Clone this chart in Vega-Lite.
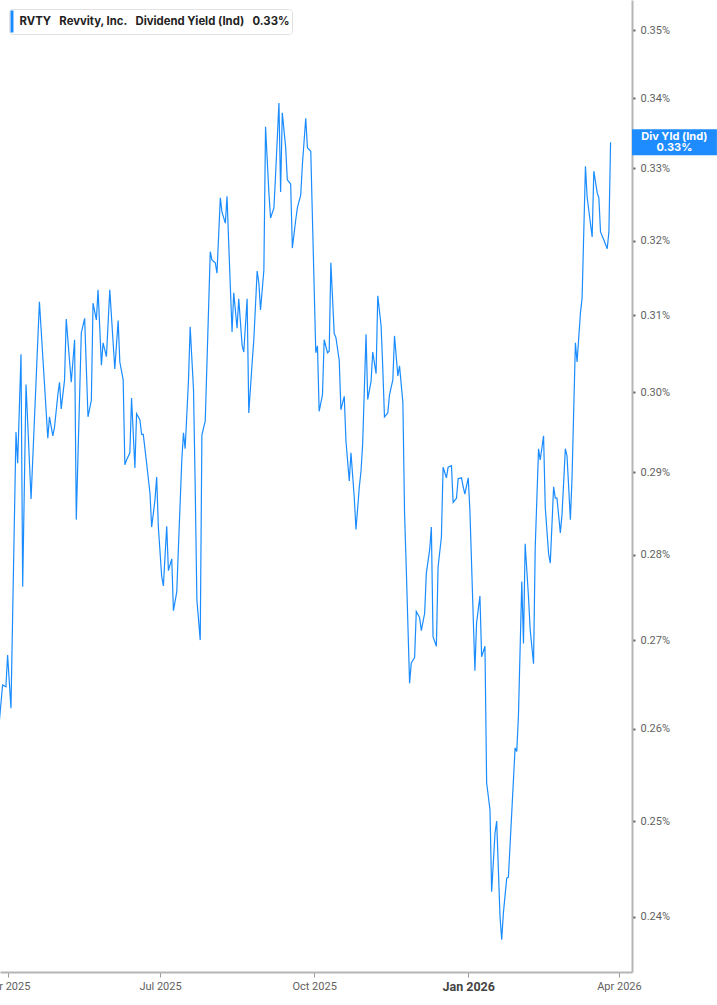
{
  "$schema": "https://vega.github.io/schema/vega-lite/v6.json",
  "description": "RVTY Revvity, Inc. dividend yield (indicated), daily, log scale.",
  "width": 632,
  "height": 972,
  "autosize": {"type": "none"},
  "padding": {"left": 0, "top": 0, "right": 85, "bottom": 33},
  "background": "white",
  "config": {
    "view": {"stroke": null},
    "font": "Roboto",
    "axis": {"grid": false, "title": null, "labelFont": "Roboto"},
    "legend": {"labelFont": "Inter", "titleFont": "Inter"}
  },
  "layer": [
    {
      "data": {
        "values": [
          {"d": "2025-03-27", "v": 0.2607}, {"d": "2025-03-29", "v": 0.2649}, {"d": "2025-03-31", "v": 0.2647},
          {"d": "2025-04-01", "v": 0.2683}, {"d": "2025-04-03", "v": 0.2623}, {"d": "2025-04-06", "v": 0.2950},
          {"d": "2025-04-07", "v": 0.2911}, {"d": "2025-04-09", "v": 0.3049}, {"d": "2025-04-10", "v": 0.2762},
          {"d": "2025-04-12", "v": 0.3010}, {"d": "2025-04-15", "v": 0.2867}, {"d": "2025-04-20", "v": 0.3118},
          {"d": "2025-04-25", "v": 0.2942}, {"d": "2025-04-26", "v": 0.2969}, {"d": "2025-04-28", "v": 0.2945},
          {"d": "2025-04-29", "v": 0.2956}, {"d": "2025-05-01", "v": 0.2997}, {"d": "2025-05-02", "v": 0.3013},
          {"d": "2025-05-03", "v": 0.2979}, {"d": "2025-05-05", "v": 0.3016}, {"d": "2025-05-06", "v": 0.3095},
          {"d": "2025-05-09", "v": 0.3013}, {"d": "2025-05-11", "v": 0.3068}, {"d": "2025-05-12", "v": 0.2842},
          {"d": "2025-05-15", "v": 0.3077}, {"d": "2025-05-17", "v": 0.3096}, {"d": "2025-05-19", "v": 0.2969},
          {"d": "2025-05-21", "v": 0.2990}, {"d": "2025-05-22", "v": 0.3116}, {"d": "2025-05-24", "v": 0.3094},
          {"d": "2025-05-25", "v": 0.3134}, {"d": "2025-05-27", "v": 0.3035}, {"d": "2025-05-28", "v": 0.3064},
          {"d": "2025-05-30", "v": 0.3046}, {"d": "2025-06-01", "v": 0.3134}, {"d": "2025-06-04", "v": 0.3030},
          {"d": "2025-06-06", "v": 0.3093}, {"d": "2025-06-07", "v": 0.3039}, {"d": "2025-06-09", "v": 0.3016},
          {"d": "2025-06-10", "v": 0.2909}, {"d": "2025-06-11", "v": 0.2915}, {"d": "2025-06-13", "v": 0.2924},
          {"d": "2025-06-14", "v": 0.2993}, {"d": "2025-06-16", "v": 0.2905}, {"d": "2025-06-17", "v": 0.2973},
          {"d": "2025-06-19", "v": 0.2965}, {"d": "2025-06-20", "v": 0.2947}, {"d": "2025-06-21", "v": 0.2947},
          {"d": "2025-06-23", "v": 0.2911}, {"d": "2025-06-25", "v": 0.2874}, {"d": "2025-06-26", "v": 0.2833},
          {"d": "2025-06-28", "v": 0.2866}, {"d": "2025-06-29", "v": 0.2894}, {"d": "2025-06-30", "v": 0.2833},
          {"d": "2025-07-02", "v": 0.2774}, {"d": "2025-07-03", "v": 0.2763}, {"d": "2025-07-05", "v": 0.2834},
          {"d": "2025-07-06", "v": 0.2781}, {"d": "2025-07-08", "v": 0.2795}, {"d": "2025-07-09", "v": 0.2734},
          {"d": "2025-07-11", "v": 0.2756}, {"d": "2025-07-12", "v": 0.2809}, {"d": "2025-07-14", "v": 0.2915},
          {"d": "2025-07-15", "v": 0.2949}, {"d": "2025-07-16", "v": 0.2929}, {"d": "2025-07-18", "v": 0.3016},
          {"d": "2025-07-19", "v": 0.3085}, {"d": "2025-07-21", "v": 0.3003}, {"d": "2025-07-22", "v": 0.2882},
          {"d": "2025-07-23", "v": 0.2747}, {"d": "2025-07-25", "v": 0.2700}, {"d": "2025-07-26", "v": 0.2946},
          {"d": "2025-07-28", "v": 0.2964}, {"d": "2025-07-31", "v": 0.3185}, {"d": "2025-08-01", "v": 0.3174},
          {"d": "2025-08-03", "v": 0.3170}, {"d": "2025-08-04", "v": 0.3156}, {"d": "2025-08-06", "v": 0.3259},
          {"d": "2025-08-07", "v": 0.3239}, {"d": "2025-08-09", "v": 0.3224}, {"d": "2025-08-10", "v": 0.3261},
          {"d": "2025-08-11", "v": 0.3197}, {"d": "2025-08-13", "v": 0.3078}, {"d": "2025-08-14", "v": 0.3130},
          {"d": "2025-08-16", "v": 0.3083}, {"d": "2025-08-17", "v": 0.3122}, {"d": "2025-08-19", "v": 0.3061},
          {"d": "2025-08-20", "v": 0.3052}, {"d": "2025-08-22", "v": 0.3122}, {"d": "2025-08-23", "v": 0.2974},
          {"d": "2025-08-25", "v": 0.3038}, {"d": "2025-08-26", "v": 0.3068}, {"d": "2025-08-28", "v": 0.3159},
          {"d": "2025-08-29", "v": 0.3143}, {"d": "2025-08-30", "v": 0.3107}, {"d": "2025-09-01", "v": 0.3160},
          {"d": "2025-09-02", "v": 0.3359}, {"d": "2025-09-04", "v": 0.3266}, {"d": "2025-09-05", "v": 0.3231},
          {"d": "2025-09-07", "v": 0.3245}, {"d": "2025-09-08", "v": 0.3291}, {"d": "2025-09-10", "v": 0.3393},
          {"d": "2025-09-11", "v": 0.3267}, {"d": "2025-09-12", "v": 0.3379}, {"d": "2025-09-14", "v": 0.3330},
          {"d": "2025-09-15", "v": 0.3284}, {"d": "2025-09-17", "v": 0.3278}, {"d": "2025-09-18", "v": 0.3190},
          {"d": "2025-09-20", "v": 0.3228}, {"d": "2025-09-21", "v": 0.3245}, {"d": "2025-09-23", "v": 0.3263},
          {"d": "2025-09-24", "v": 0.3305}, {"d": "2025-09-26", "v": 0.3371}, {"d": "2025-09-27", "v": 0.3329},
          {"d": "2025-09-29", "v": 0.3324}, {"d": "2025-10-02", "v": 0.3051}, {"d": "2025-10-03", "v": 0.3060},
          {"d": "2025-10-04", "v": 0.2976}, {"d": "2025-10-06", "v": 0.2997}, {"d": "2025-10-07", "v": 0.3068},
          {"d": "2025-10-09", "v": 0.3051}, {"d": "2025-10-10", "v": 0.3053}, {"d": "2025-10-11", "v": 0.3170},
          {"d": "2025-10-13", "v": 0.3076}, {"d": "2025-10-14", "v": 0.3071}, {"d": "2025-10-16", "v": 0.3041},
          {"d": "2025-10-17", "v": 0.2978}, {"d": "2025-10-19", "v": 0.2995}, {"d": "2025-10-20", "v": 0.2939},
          {"d": "2025-10-22", "v": 0.2889}, {"d": "2025-10-23", "v": 0.2924}, {"d": "2025-10-25", "v": 0.2868},
          {"d": "2025-10-26", "v": 0.2830}, {"d": "2025-10-28", "v": 0.2882}, {"d": "2025-10-29", "v": 0.2901},
          {"d": "2025-10-30", "v": 0.2936}, {"d": "2025-11-01", "v": 0.3075}, {"d": "2025-11-02", "v": 0.2991},
          {"d": "2025-11-04", "v": 0.3014}, {"d": "2025-11-05", "v": 0.3052}, {"d": "2025-11-07", "v": 0.3024},
          {"d": "2025-11-08", "v": 0.3126}, {"d": "2025-11-10", "v": 0.3086}, {"d": "2025-11-11", "v": 0.3031},
          {"d": "2025-11-12", "v": 0.2969}, {"d": "2025-11-14", "v": 0.2974}, {"d": "2025-11-15", "v": 0.2997},
          {"d": "2025-11-17", "v": 0.3016}, {"d": "2025-11-18", "v": 0.3073}, {"d": "2025-11-20", "v": 0.3021},
          {"d": "2025-11-21", "v": 0.3034}, {"d": "2025-11-23", "v": 0.2987}, {"d": "2025-11-24", "v": 0.2849},
          {"d": "2025-11-25", "v": 0.2785}, {"d": "2025-11-27", "v": 0.2651}, {"d": "2025-11-28", "v": 0.2674},
          {"d": "2025-11-30", "v": 0.2680}, {"d": "2025-12-01", "v": 0.2733}, {"d": "2025-12-03", "v": 0.2726},
          {"d": "2025-12-04", "v": 0.2711}, {"d": "2025-12-06", "v": 0.2731}, {"d": "2025-12-07", "v": 0.2778},
          {"d": "2025-12-09", "v": 0.2806}, {"d": "2025-12-10", "v": 0.2833}, {"d": "2025-12-11", "v": 0.2704},
          {"d": "2025-12-13", "v": 0.2693}, {"d": "2025-12-14", "v": 0.2785}, {"d": "2025-12-16", "v": 0.2821},
          {"d": "2025-12-17", "v": 0.2906}, {"d": "2025-12-19", "v": 0.2893}, {"d": "2025-12-20", "v": 0.2906},
          {"d": "2025-12-22", "v": 0.2908}, {"d": "2025-12-23", "v": 0.2863}, {"d": "2025-12-25", "v": 0.2868},
          {"d": "2025-12-26", "v": 0.2892}, {"d": "2025-12-28", "v": 0.2893}, {"d": "2025-12-29", "v": 0.2882},
          {"d": "2025-12-30", "v": 0.2873}, {"d": "2026-01-01", "v": 0.2893}, {"d": "2026-01-02", "v": 0.2854},
          {"d": "2026-01-05", "v": 0.2665}, {"d": "2026-01-06", "v": 0.2720}, {"d": "2026-01-08", "v": 0.2751},
          {"d": "2026-01-09", "v": 0.2681}, {"d": "2026-01-11", "v": 0.2693}, {"d": "2026-01-12", "v": 0.2541},
          {"d": "2026-01-14", "v": 0.2512}, {"d": "2026-01-15", "v": 0.2426}, {"d": "2026-01-17", "v": 0.2487},
          {"d": "2026-01-18", "v": 0.2500}, {"d": "2026-01-20", "v": 0.2400}, {"d": "2026-01-21", "v": 0.2377},
          {"d": "2026-01-22", "v": 0.2404}, {"d": "2026-01-24", "v": 0.2440}, {"d": "2026-01-25", "v": 0.2441},
          {"d": "2026-01-29", "v": 0.2579}, {"d": "2026-01-30", "v": 0.2575}, {"d": "2026-01-31", "v": 0.2615},
          {"d": "2026-02-02", "v": 0.2768}, {"d": "2026-02-03", "v": 0.2696}, {"d": "2026-02-04", "v": 0.2813},
          {"d": "2026-02-06", "v": 0.2750}, {"d": "2026-02-07", "v": 0.2712}, {"d": "2026-02-09", "v": 0.2673},
          {"d": "2026-02-10", "v": 0.2808}, {"d": "2026-02-12", "v": 0.2929}, {"d": "2026-02-13", "v": 0.2915},
          {"d": "2026-02-15", "v": 0.2945}, {"d": "2026-02-16", "v": 0.2857}, {"d": "2026-02-18", "v": 0.2801},
          {"d": "2026-02-19", "v": 0.2790}, {"d": "2026-02-21", "v": 0.2882}, {"d": "2026-02-22", "v": 0.2868},
          {"d": "2026-02-23", "v": 0.2868}, {"d": "2026-02-25", "v": 0.2826}, {"d": "2026-02-26", "v": 0.2848},
          {"d": "2026-02-28", "v": 0.2929}, {"d": "2026-03-01", "v": 0.2920}, {"d": "2026-03-03", "v": 0.2842},
          {"d": "2026-03-04", "v": 0.2894}, {"d": "2026-03-06", "v": 0.3064}, {"d": "2026-03-07", "v": 0.3039},
          {"d": "2026-03-09", "v": 0.3103}, {"d": "2026-03-10", "v": 0.3123}, {"d": "2026-03-12", "v": 0.3303},
          {"d": "2026-03-13", "v": 0.3260}, {"d": "2026-03-16", "v": 0.3205}, {"d": "2026-03-17", "v": 0.3296},
          {"d": "2026-03-19", "v": 0.3266}, {"d": "2026-03-20", "v": 0.3259}, {"d": "2026-03-21", "v": 0.3212},
          {"d": "2026-03-23", "v": 0.3201}, {"d": "2026-03-25", "v": 0.3189}, {"d": "2026-03-26", "v": 0.3212},
          {"d": "2026-03-27", "v": 0.3337}
        ]
      },
      "mark": {"type": "line", "strokeWidth": 1.2, "interpolate": "linear"},
      "encoding": {
        "x": {
          "field": "d",
          "type": "temporal",
          "title": null,
          "scale": {
            "type": "utc",
            "domain": [
              {"year": 2025, "month": 3, "date": 27, "hours": 11, "utc": true},
              {"year": 2026, "month": 4, "date": 8, "hours": 19, "utc": true}
            ]
          },
          "axis": {
            "orient": "bottom",
            "values": [
              {"year": 2025, "month": 4, "date": 1, "utc": true},
              {"year": 2025, "month": 7, "date": 1, "utc": true},
              {"year": 2025, "month": 10, "date": 1, "utc": true},
              {"year": 2026, "month": 1, "date": 1, "utc": true},
              {"year": 2026, "month": 4, "date": 1, "utc": true}
            ],
            "labelExpr": "utcFormat(datum.value, '%b %Y')",
            "labelFlush": false,
            "labelOverlap": false,
            "domainColor": "#b5b5b5",
            "domainWidth": 2,
            "tickColor": "#9a9a9a",
            "tickSize": 5,
            "tickWidth": 1,
            "labelPadding": 3,
            "labelColor": {"expr": "utcmonth(datum.value) === 0 ? '#444444' : '#5f5f5f'"},
            "labelFontSize": {"expr": "utcmonth(datum.value) === 0 ? 12.5 : 11"},
            "labelFontWeight": {"expr": "utcmonth(datum.value) === 0 ? 'bold' : 'normal'"}
          }
        },
        "y": {
          "field": "v",
          "type": "quantitative",
          "title": null,
          "scale": {"type": "log", "domain": [0.23445, 0.3545], "nice": false, "zero": false},
          "axis": {
            "orient": "right",
            "values": [0.24, 0.25, 0.26, 0.27, 0.28, 0.29, 0.3, 0.31, 0.32, 0.33, 0.34, 0.35],
            "labelExpr": "format(datum.value, '.2f') + '%'",
            "domainColor": "#b5b5b5",
            "domainWidth": 2,
            "tickColor": "#666666",
            "tickSize": 3,
            "tickWidth": 2,
            "labelPadding": 5,
            "labelColor": "#5f5f5f",
            "labelFontSize": 11
          }
        },
        "color": {
          "datum": "RVTY\u2002 Revvity, Inc.\u2002 Dividend Yield (Ind)\u2002 0.33%",
          "type": "nominal",
          "scale": {"range": ["#1a8cff"]},
          "legend": {
            "title": null,
            "orient": "top-left",
            "offset": 9,
            "padding": 1.5,
            "fillColor": "white",
            "strokeColor": "#e2e2e2",
            "cornerRadius": 3,
            "symbolType": "M-1,-1 L-0.73,-1 L-0.73,1 L-1,1 Z",
            "symbolSize": 484,
            "symbolFillColor": "#1a8cff",
            "symbolStrokeColor": "#1a8cff",
            "symbolStrokeWidth": 0,
            "labelOffset": -13,
            "labelLimit": 400,
            "labelFontSize": 11.3,
            "labelFontWeight": "bold",
            "labelColor": "#222222"
          }
        }
      }
    },
    {
      "data": {"values": [{"x1": "2026-04-08T19:00:00Z", "x2": "2026-05-29T12:00:00Z", "y1": 0.33552, "y2": 0.33183}]},
      "mark": {"type": "rect", "color": "#1e8cff"},
      "encoding": {
        "x": {"field": "x1", "type": "temporal", "title": null},
        "x2": {"field": "x2"},
        "y": {"field": "y1", "type": "quantitative", "title": null},
        "y2": {"field": "y2"}
      }
    },
    {
      "data": {"values": [{"x": "2026-05-04T02:00:00Z", "y": 0.33443}]},
      "mark": {
        "type": "text",
        "text": ["Div Yld (Ind)", "0.33%"],
        "color": "white",
        "font": "Inter",
        "fontSize": 11,
        "fontWeight": "bold",
        "lineHeight": 11,
        "align": "center",
        "baseline": "middle"
      },
      "encoding": {
        "x": {"field": "x", "type": "temporal", "title": null},
        "y": {"field": "y", "type": "quantitative", "title": null}
      }
    }
  ]
}
